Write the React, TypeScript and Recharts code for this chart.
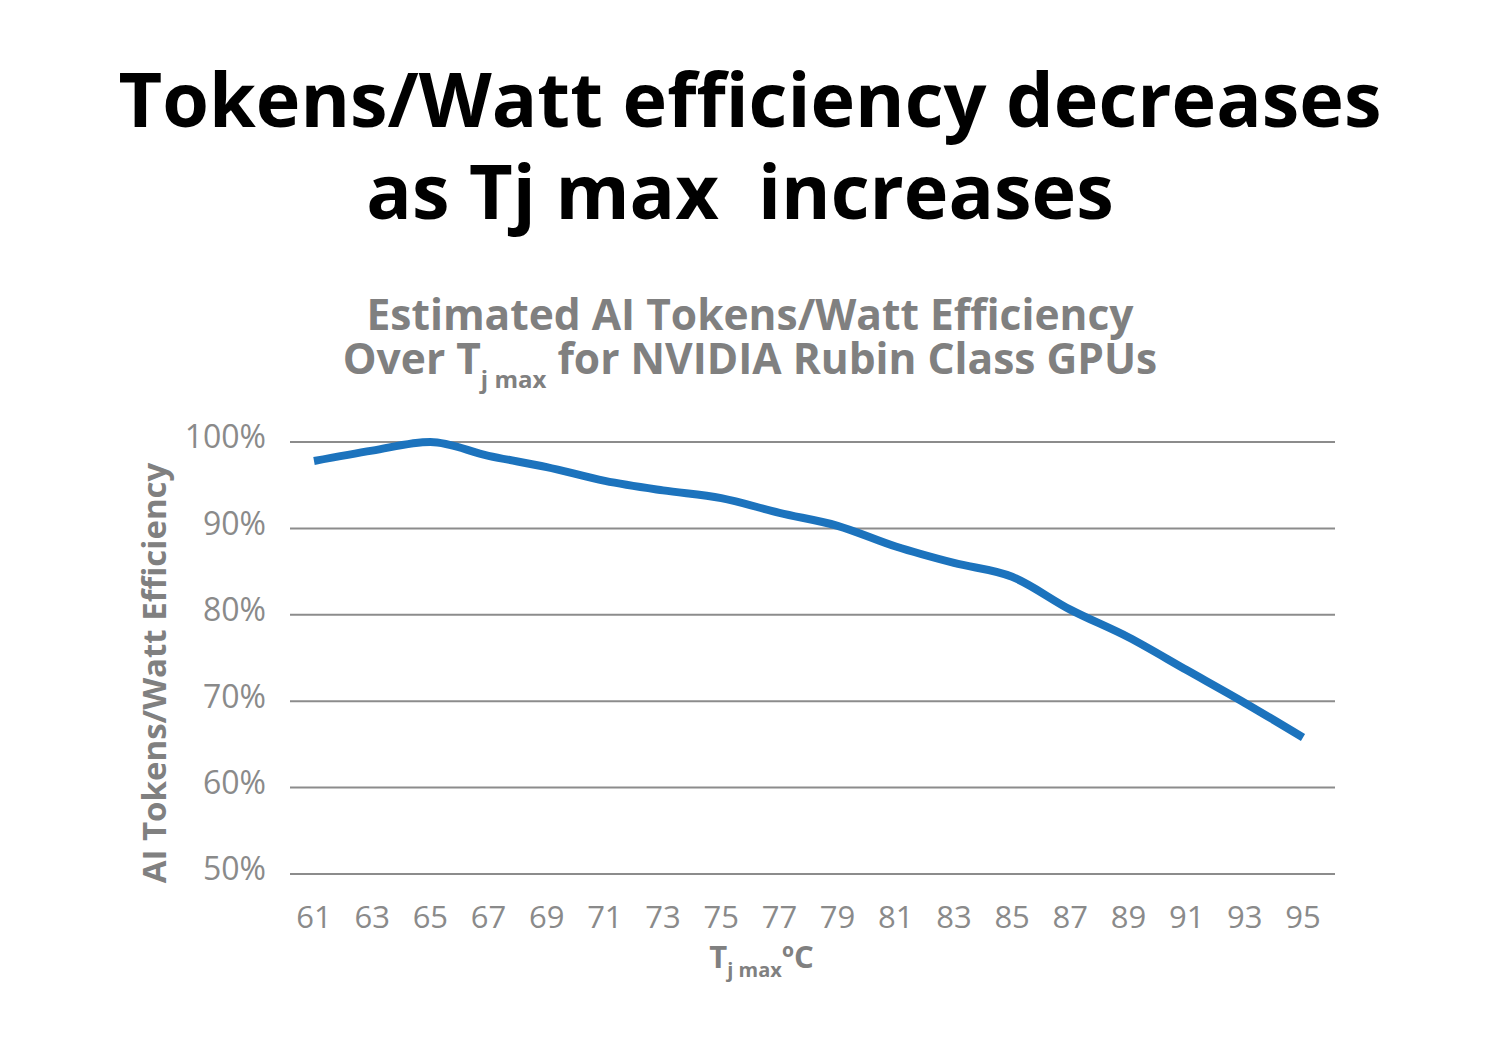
import { LineChart, Line, XAxis, YAxis, CartesianGrid } from 'recharts'

const temps = ['61', '63', '65', '67', '69', '71', '73', '75', '77', '79', '81', '83', '85', '87', '89', '91', '93', '95']
const efficiency = [97.8, 99.0, 100.0, 98.4, 97.1, 95.5, 94.4, 93.5, 91.8, 90.3, 87.9, 86.0, 84.4, 80.6, 77.4, 73.6, 69.8, 65.8]
const yTicks = [50, 60, 70, 80, 90, 100]

const data = temps.map((t, i) => ({ temp: t, eff: efficiency[i] }))

const FONT = '"Open Sans", sans-serif'
const GREY = '#808080'

type VB = { x: number; y: number; width: number; height: number }

const XLabel = ({ viewBox }: { viewBox?: VB }) => {
  if (!viewBox) return null
  const cx = viewBox.x + viewBox.width / 2 - 51
  return (
    <text x={cx} y={968} textAnchor="middle" fontFamily={FONT} fontWeight={700} fill={GREY}>
      <tspan fontSize={31}>T</tspan>
      <tspan fontSize={20} dy={9}>j max</tspan>
      <tspan fontSize={31} dy={-9}>ºC</tspan>
    </text>
  )
}

const YLabel = ({ viewBox }: { viewBox?: VB }) => {
  if (!viewBox) return null
  const cx = 153
  const cy = viewBox.y + viewBox.height / 2 + 15
  return (
    <text
      x={cx}
      y={cy}
      transform={`rotate(-90, ${cx}, ${cy})`}
      textAnchor="middle"
      dominantBaseline="central"
      fontFamily={FONT}
      fontWeight={700}
      fontSize={33}
      fill={GREY}
    >
      AI Tokens/Watt Efficiency
    </text>
  )
}

export default function App() {
  return (
    <div style={{ position: 'absolute', left: 0, top: 0, width: 1500, height: 1054, background: '#fff', fontFamily: FONT }}>
      <div style={{ position: 'absolute', top: 52, left: 0, width: 1500, textAlign: 'center', fontWeight: 700, fontSize: 75.5, lineHeight: '92px', color: '#000', whiteSpace: 'pre' }}>
        <div>Tokens/Watt efficiency decreases</div>
        <div style={{ paddingRight: 20 }}>as Tj max  increases</div>
      </div>
      <div style={{ position: 'absolute', top: 292, left: 0, width: 1500, textAlign: 'center', fontWeight: 700, fontSize: 42.5, lineHeight: '44px', color: GREY }}>
        <div>Estimated AI Tokens/Watt Efficiency</div>
        <div>
          Over T<span style={{ fontSize: 24, verticalAlign: -14, lineHeight: 0 }}>j max</span> for NVIDIA Rubin Class GPUs
        </div>
      </div>
      <div style={{ position: 'absolute', left: 0, top: 0 }}>
        <LineChart width={1500} height={1054} data={data} margin={{ top: 442, right: 165, bottom: 120, left: 190 }}>
          <CartesianGrid vertical={false} stroke="#8c8c8c" strokeWidth={2} />
          <XAxis
            dataKey="temp"
            axisLine={false}
            tickLine={false}
            tickSize={0}
            tickMargin={32}
            height={60}
            padding={{ left: 24, right: 32 }}
            tick={{ fontSize: 31, fill: '#8a8a8a', fontFamily: FONT }}
            interval={0}
            label={<XLabel />}
          />
          <YAxis
            domain={[50, 100]}
            ticks={yTicks}
            width={100}
            axisLine={false}
            tickLine={false}
            tickSize={0}
            tickMargin={24}
            tickFormatter={(v: number) => `${v}%`}
            tick={{ fontSize: 32, fill: '#8a8a8a', fontFamily: FONT, dy: -5 }}
            label={<YLabel />}
          />
          <Line
            type="monotone"
            dataKey="eff"
            stroke="#1c73bd"
            strokeWidth={8}
            dot={false}
            isAnimationActive={false}
          />
        </LineChart>
      </div>
    </div>
  )
}
